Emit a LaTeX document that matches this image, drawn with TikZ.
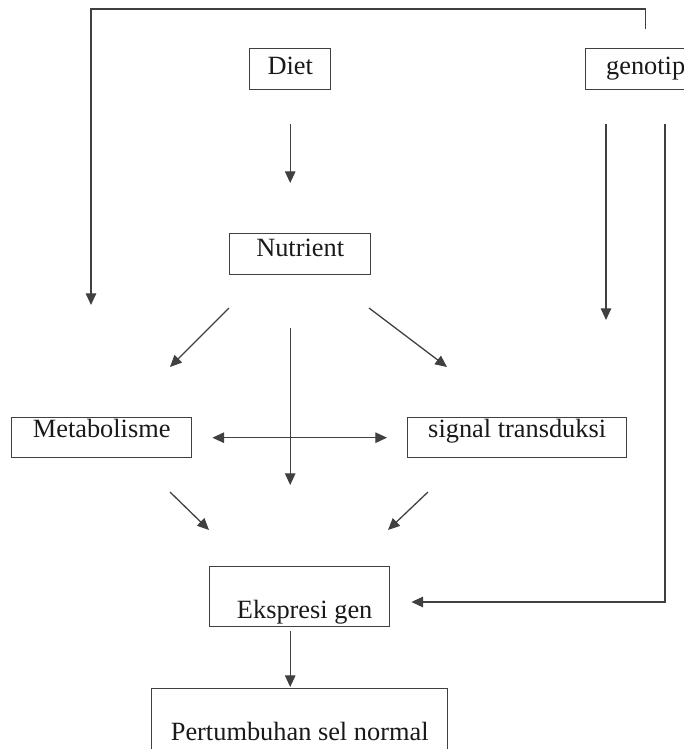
\documentclass[tikz,border=0pt]{standalone}
\usepackage{fontspec}
\setmainfont{Liberation Serif}
\usetikzlibrary{arrows.meta}
\newcommand{\PxCm}{0.03}
\newlength{\Px}
\setlength{\Px}{\PxCm cm}
\colorlet{LineColor}{black!75}
\colorlet{TextColor}{black!90}

\begin{document}
\begin{tikzpicture}[x=\Px, y=-\Px,
		box/.style={draw=LineColor, line width=1.2pt, inner sep=0pt, anchor=north west,
			text=TextColor, font=\fontsize{22.5}{26}\selectfont},
		arr/.style={draw=LineColor, line width=1.1pt, -{Triangle[length=10pt, width=9pt]}},
		dblarr/.style={arr, {Triangle[length=10pt, width=9pt]}-{Triangle[length=10pt, width=9pt]}}]
	\useasboundingbox (0,0) rectangle (684,749);
	\clip (0,0) rectangle (684,749);
	
	% boxes: top left corner, width, text height and depth in pixels
	\node[box, minimum width=81\Px, text height=26\Px, text depth=15\Px] (diet) at (249,48) {Diet};
	\node[box, minimum width=120\Px, text height=26\Px, text depth=15\Px] (genotip) at (585,48) {genotip};
	\node[box, minimum width=141\Px, text height=23\Px, text depth=18\Px] (nutrient) at (229,233) {Nutrient};
	\node[box, minimum width=180\Px, text height=20\Px, text depth=20\Px] (metab) at (11,417) {Metabolisme};
	\node[box, minimum width=219\Px, text height=20\Px, text depth=20\Px] (signal) at (407,417) {signal transduksi};
	\node[box, minimum width=180\Px, text height=52\Px, text depth=8\Px] (ekspresi) at (209,566) {\hspace{10\Px}Ekspresi gen};
	\node[box, minimum width=296\Px, text height=52\Px, text depth=30\Px] (tumbuh) at (151,688) {Pertumbuhan sel normal\hspace{12\Px}};
	
	% free ends
	\coordinate (topL) at (91,9);
	\coordinate (leftEnd) at (91,305);
	\coordinate (genoL) at (606,320);
	\coordinate (genoR) at (665,602);
	\coordinate (nlA) at (229,308);
	\coordinate (nlB) at (170,367);
	\coordinate (nrA) at (369,308);
	\coordinate (nrB) at (447,367);
	\coordinate (mlA) at (170,492);
	\coordinate (mlB) at (209,530);
	\coordinate (srA) at (428,492);
	\coordinate (srB) at (388,530);
	
	% connectors
	\draw[arr, shorten <=19\Px] (genotip.north) |- (topL) -- (leftEnd);
	\draw[arr, shorten <=34\Px, shorten >=50\Px] (diet.south) -- (diet.south |- nutrient.north);
	\draw[arr, shorten <=34\Px] (genotip.south -| genoL) -- (genoL);
	\draw[arr, shorten <=34\Px, shorten >=21\Px] (genotip.south -| genoR) -- (genoR) -- (genoR -| ekspresi.east);
	\draw[arr] (nlA) -- (nlB);
	\draw[arr] (nrA) -- (nrB);
	\draw[arr, shorten <=53\Px, shorten >=81\Px] (diet.south |- nutrient.south) -- (diet.south |- ekspresi.north);
	\draw[dblarr, shorten <=20\Px, shorten >=20\Px] (metab.east) -- (signal.west);
	\draw[arr] (mlA) -- (mlB);
	\draw[arr] (srA) -- (srB);
	\draw[arr, shorten <=4\Px, shorten >=1\Px] (diet.south |- ekspresi.south) -- (diet.south |- tumbuh.north);
\end{tikzpicture}
\end{document}
